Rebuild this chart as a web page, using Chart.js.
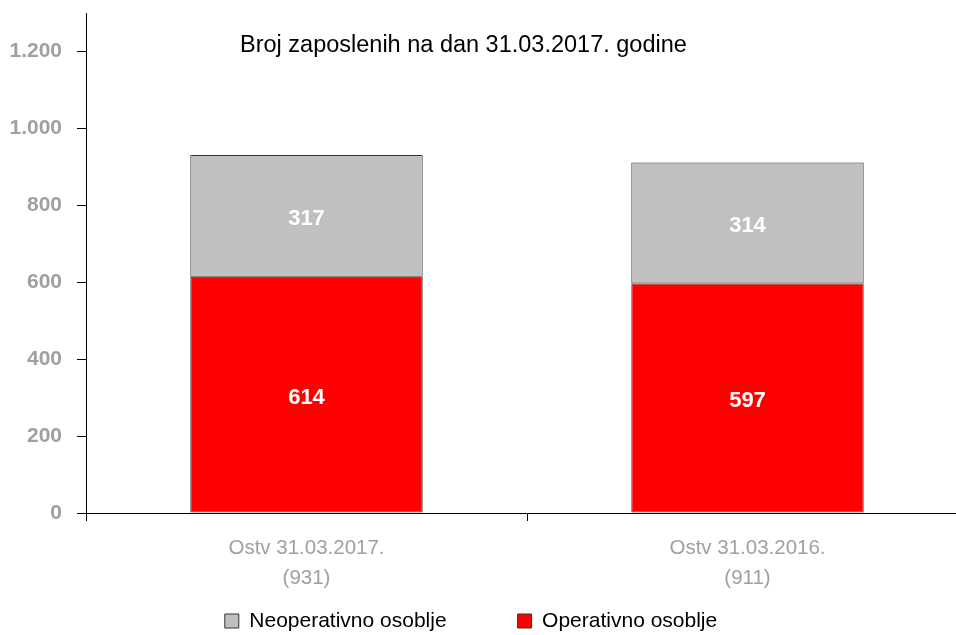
<!DOCTYPE html>
<html>
<head>
<meta charset="utf-8">
<script src="https://cdn.jsdelivr.net/npm/chart.js@4.4.1/dist/chart.umd.min.js"></script>
<style>
  html, body { margin: 0; padding: 0; background: #fff; overflow: hidden; }
  #wrap { width: 968px; height: 635px; position: relative; }
</style>
</head>
<body>
<div id="wrap"><canvas id="chart"></canvas></div>
<script>
// data
const categories = ["Ostv 31.03.2017.", "Ostv 31.03.2016."];
const totals = [931, 911];
const operativno = [614, 597];
const neoperativno = [317, 314];
const yTicks = [0, 200, 400, 600, 800, 1000, 1200];
const chartTitle = "Broj zaposlenih na dan 31.03.2017. godine";

const FONT = "'Liberation Sans', Arial, sans-serif";
const GREY_TEXT = "#a0a0a0";
const LEGEND_GAP = 71; // space between the two legend entries
const LEGEND_H = 42;
const LEGEND_Y = 621; // vertical centre of legend entries
const LEGEND_SHIFT = -13; // legend is a bit left of centre

function fmt(n) {
  return String(n).replace(/\B(?=(\d{3})+(?!\d))/g, ".");
}

// white value labels inside each stacked segment
const valueLabels = {
  id: "valueLabels",
  afterDatasetsDraw(chart) {
    const ctx = chart.ctx;
    ctx.save();
    ctx.fillStyle = "#fff";
    ctx.font = "bold 22px " + FONT;
    ctx.textAlign = "center";
    ctx.textBaseline = "middle";
    chart.data.datasets.forEach((ds, i) => {
      const meta = chart.getDatasetMeta(i);
      meta.data.forEach((bar, j) => {
        const p = bar.getProps(["x", "y", "base"], true);
        ctx.fillText(ds.data[j], p.x, (p.y + p.base) / 2 + 3);
      });
    });
    ctx.restore();
  },
};

// title sits left of centre in the original
const titleText = {
  id: "titleText",
  afterDraw(chart) {
    const ctx = chart.ctx;
    ctx.save();
    ctx.fillStyle = "#000";
    ctx.font = "23.5px " + FONT;
    ctx.textAlign = "left";
    ctx.textBaseline = "middle";
    ctx.fillText(chartTitle, 240, 46);
    ctx.restore();
  },
};

// wide horizontal gap in the legend without the tall box it would normally get
const legendGap = {
  id: "legendGap",
  beforeLayout(chart) {
    const lg = chart.legend;
    if (lg && !lg._gapWrapped) {
      const fit = lg.fit.bind(lg);
      lg.fit = function () {
        fit();
        this.height = LEGEND_H;
      };
      lg._gapWrapped = true;
    }
  },
  beforeDraw(chart) {
    const lg = chart.legend;
    if (!lg) return;
    lg.top = LEGEND_Y - 10.5 - LEGEND_GAP;
    if (!lg._shifted) {
      lg.left += LEGEND_SHIFT;
      lg.right += LEGEND_SHIFT;
      lg._shifted = true;
    }
  },
};

new Chart(document.getElementById("chart"), {
  type: "bar",
  data: {
    labels: categories.map((c, i) => [c, "(" + totals[i] + ")"]),
    datasets: [
      {
        label: "Operativno osoblje",
        data: operativno,
        backgroundColor: "#ff0000",
        borderColor: "#333333",
        borderWidth: 1,
        borderSkipped: false,
      },
      {
        label: "Neoperativno osoblje",
        data: neoperativno,
        backgroundColor: "#c0c0c0",
        borderColor: "#333333",
        borderWidth: 1,
        borderSkipped: false,
      },
    ],
  },
  options: {
    responsive: true,
    maintainAspectRatio: false,
    animation: false,
    datasets: {
      bar: { barPercentage: 1, categoryPercentage: 0.527 },
    },
    layout: { padding: { top: 13, left: 0, right: 0, bottom: 0 } },
    plugins: {
      legend: {
        position: "bottom",
        reverse: true,
        labels: {
          color: "#000",
          font: { family: FONT, size: 21 },
          boxWidth: 14,
          boxHeight: 14,
          padding: LEGEND_GAP,
        },
      },
      title: { display: false },
      tooltip: { enabled: false },
    },
    scales: {
      x: {
        stacked: true,
        border: { color: "#000", width: 1 },
        grid: {
          drawOnChartArea: false,
          color: "#000",
          tickLength: 8,
        },
        afterFit(axis) {
          axis.height = 80;
          axis.paddingLeft = 0;
          axis.paddingRight = 0;
        },
        ticks: {
          color: GREY_TEXT,
          font: { family: FONT, size: 20.5, lineHeight: 1.46 },
          padding: 12,
        },
      },
      y: {
        stacked: true,
        min: 0,
        max: 1300,
        border: { color: "#000", width: 1 },
        grid: {
          drawOnChartArea: false,
          color: "#000",
          tickLength: 9,
        },
        afterBuildTicks(axis) {
          axis.ticks = yTicks.map((v) => ({ value: v }));
        },
        afterFit(axis) {
          axis.width = 86;
          axis.paddingTop = 0;
          axis.paddingBottom = 0;
        },
        ticks: {
          color: GREY_TEXT,
          font: { family: FONT, size: 21, weight: "bold" },
          padding: 15,
          callback: (v) => fmt(v),
        },
      },
    },
  },
  plugins: [valueLabels, titleText, legendGap],
});
</script>
</body>
</html>
